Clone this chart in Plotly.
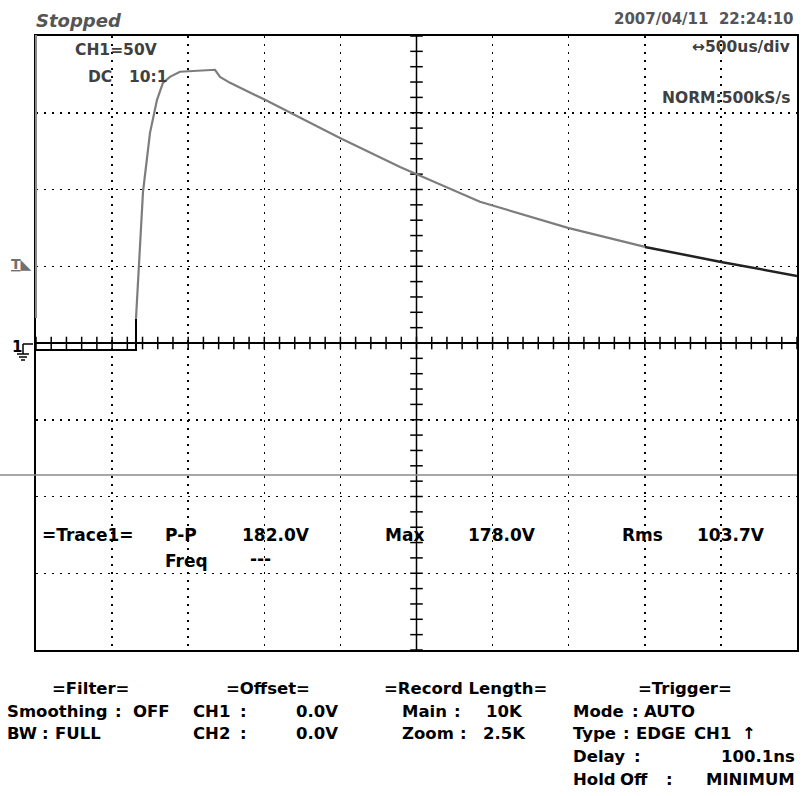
import numpy as np
import plotly.graph_objects as go

W, H = 803, 796

# ---- data (time in microseconds from left edge of screen, volts) ----
pre_t = [0, 657, 657]
pre_v = [-4.5, -4.5, 16]
main_t = [657, 677, 703, 749, 795, 834, 880, 946, 1176, 1209, 1275, 1505, 1669, 1997, 2392, 2917, 3495, 4001]
main_v = [16, 49.5, 98.4, 136.9, 158.4, 169.5, 173.4, 176.7, 178.0, 173.4, 169.5, 158.4, 150.0, 133.6, 114.7, 92.0, 75.0, 62.6]
tail_t = [4001, 4501, 5000]
tail_v = [62.6, 52.8, 43.7]

x_grid = [500, 1000, 1500, 2000, 2500, 3000, 3500, 4000, 4500]
y_grid = [-150, -100, -50, 0, 50, 100, 150]
x_center = 2500
y_center = 0
h_ticks = list(range(0, 5001, 100))
v_ticks = list(range(-200, 201, 10))

top_texts = [
    ("CH1=50V", 73, 50, "left"),
    ("DC", 86, 77, "left"),
    ("10:1", 127, 77, "left"),
    ("↔500us/div", 792, 47, "right"),
    ("NORM:500kS/s", 792, 98, "right"),
]
meas_texts = [
    ("=Trace1=", 40, 535, "left"),
    ("P-P", 163, 535, "left"),
    ("182.0V", 240, 535, "left"),
    ("Freq", 163, 561, "left"),
    ("---", 248, 559, "left"),
    ("Max", 383, 535, "left"),
    ("178.0V", 466, 535, "left"),
    ("Rms", 620, 535, "left"),
    ("103.7V", 695, 535, "left"),
]
bottom_texts = [
    ("=Filter=", 50, 688, "left"),
    ("=Offset=", 224, 688, "left"),
    ("=Record Length=", 382, 688, "left"),
    ("=Trigger=", 636, 688, "left"),
    ("Smoothing", 5, 711, "left"),
    (":", 113, 711, "left"),
    ("OFF", 131, 711, "left"),
    ("CH1", 191, 711, "left"),
    (":", 238, 711, "left"),
    ("0.0V", 340, 711, "right"),
    ("Main", 400, 711, "left"),
    (":", 452, 711, "left"),
    ("10K", 525, 711, "right"),
    ("Mode", 571, 711, "left"),
    (":", 630, 711, "left"),
    ("AUTO", 642, 711, "left"),
    ("BW", 5, 733, "left"),
    (":", 40, 733, "left"),
    ("FULL", 53, 733, "left"),
    ("CH2", 191, 733, "left"),
    (":", 238, 733, "left"),
    ("0.0V", 340, 733, "right"),
    ("Zoom", 400, 733, "left"),
    (":", 458, 733, "left"),
    ("2.5K", 528, 733, "right"),
    ("Type", 571, 733, "left"),
    (":", 621, 733, "left"),
    ("EDGE", 634, 733, "left"),
    ("CH1", 692, 733, "left"),
    ("↑", 740, 733, "left"),
    ("Delay", 571, 756, "left"),
    (":", 632, 756, "left"),
    ("100.1ns", 797, 756, "right"),
    ("Hold", 571, 779, "left"),
    ("Off", 618, 779, "left"),
    (":", 664, 779, "left"),
    ("MINIMUM", 797, 779, "right"),
]

FONT = "DejaVu Sans"


def px(x):
    return x / W


def py(y):
    return 1 - y / H


fig = go.Figure()

# center tick lines
fig.add_trace(go.Scatter(x=[0, 5000], y=[y_center, y_center], mode="lines",
                         line=dict(color="black", width=2), hoverinfo="skip"))
fig.add_trace(go.Scatter(x=[x_center, x_center], y=[-200, 200], mode="lines",
                         line=dict(color="black", width=1.5), hoverinfo="skip"))
fig.add_trace(go.Scatter(x=h_ticks, y=[y_center] * len(h_ticks), mode="markers",
                         marker=dict(symbol="line-ns", size=9, line=dict(color="black", width=1.5)),
                         hoverinfo="skip"))
fig.add_trace(go.Scatter(x=[x_center] * len(v_ticks), y=v_ticks, mode="markers",
                         marker=dict(symbol="line-ew", size=9, line=dict(color="black", width=1.5)),
                         hoverinfo="skip"))

# waveform
fig.add_trace(go.Scatter(x=pre_t, y=pre_v, mode="lines",
                         line=dict(color="black", width=2), hoverinfo="skip"))
fig.add_trace(go.Scatter(x=main_t, y=main_v, mode="lines",
                         line=dict(color="#7d7d7d", width=2.2), hoverinfo="skip"))
fig.add_trace(go.Scatter(x=tail_t, y=tail_v, mode="lines",
                         line=dict(color="#222222", width=2.5), hoverinfo="skip"))

x0d, x1d = 36 / W, 797 / W
y0d, y1d = (H - 650) / H, (H - 36) / H

fig.update_xaxes(range=[0, 5000], domain=[x0d, x1d], tickvals=x_grid, showticklabels=False,
                 showgrid=True, gridcolor="black", gridwidth=1.5, griddash="2px,6px",
                 zeroline=False, showline=True, mirror=True, linecolor="black", linewidth=2,
                 ticks="", fixedrange=True)
fig.update_yaxes(range=[-200, 200], domain=[y0d, y1d], tickvals=y_grid, showticklabels=False,
                 showgrid=True, gridcolor="black", gridwidth=1.5, griddash="2px,6px",
                 zeroline=False, showline=True, mirror=True, linecolor="black", linewidth=2,
                 ticks="", fixedrange=True)

annotations = []
annotations.append(dict(text="<b><i>Stopped</i></b>", x=px(34), y=py(21), xref="paper", yref="paper",
                        xanchor="left", yanchor="middle", showarrow=False,
                        font=dict(family=FONT, size=18, color="#555555")))
annotations.append(dict(text="<b>2007/04/11  22:24:10</b>", x=px(796), y=py(19), xref="paper", yref="paper",
                        xanchor="right", yanchor="middle", showarrow=False,
                        font=dict(family=FONT, size=15, color="#555555")))
for t, x, y, a in top_texts:
    annotations.append(dict(text="<b>" + t + "</b>", x=px(x), y=py(y), xref="paper", yref="paper",
                            xanchor=a, yanchor="middle", showarrow=False,
                            font=dict(family=FONT, size=15.5, color="#404040")))
for t, x, y, a in meas_texts:
    annotations.append(dict(text="<b>" + t + "</b>", x=px(x), y=py(y), xref="paper", yref="paper",
                            xanchor=a, yanchor="middle", showarrow=False,
                            font=dict(family=FONT, size=17, color="black")))
for t, x, y, a in bottom_texts:
    annotations.append(dict(text="<b>" + t + "</b>", x=px(x), y=py(y), xref="paper", yref="paper",
                            xanchor=a, yanchor="middle", showarrow=False,
                            font=dict(family=FONT, size=16.5, color="black")))
# trigger level marker and ground marker
annotations.append(dict(text="<b><u>T</u></b>◣", x=px(9), y=py(264), xref="paper", yref="paper",
                        xanchor="left", yanchor="middle", showarrow=False,
                        font=dict(family=FONT, size=14, color="#707070")))
annotations.append(dict(text="<b>1</b>", x=px(10), y=py(347), xref="paper", yref="paper",
                        xanchor="left", yanchor="middle", showarrow=False,
                        font=dict(family=FONT, size=15, color="black")))

gl = dict(color="black", width=1.5)
shapes = [
    # scan artifact line
    dict(type="line", xref="paper", yref="paper", x0=0, x1=px(797), y0=py(475), y1=py(475),
         line=dict(color="#8a8a8a", width=1.5)),
    # upper part of left frame drawn grey
    dict(type="line", xref="paper", yref="paper", x0=px(36), x1=px(36), y0=py(35), y1=py(318),
         line=dict(color="#8a8a8a", width=2)),
    # ground symbol
    dict(type="line", xref="paper", yref="paper", x0=px(23), x1=px(33), y0=py(344), y1=py(344), line=gl),
    dict(type="line", xref="paper", yref="paper", x0=px(23), x1=px(23), y0=py(344), y1=py(354), line=gl),
    dict(type="line", xref="paper", yref="paper", x0=px(17), x1=px(29), y0=py(354), y1=py(354), line=gl),
    dict(type="line", xref="paper", yref="paper", x0=px(19), x1=px(27), y0=py(357), y1=py(357), line=gl),
    dict(type="line", xref="paper", yref="paper", x0=px(21), x1=px(25), y0=py(360), y1=py(360), line=gl),
]

fig.update_layout(width=W, height=H, margin=dict(l=0, r=0, t=0, b=0),
                  paper_bgcolor="white", plot_bgcolor="white", showlegend=False,
                  annotations=annotations, shapes=shapes)

fig.write_html("out.html", config={"displayModeBar": False, "staticPlot": True},
               post_script="document.body.style.margin='0px';document.body.style.overflow='hidden';")
